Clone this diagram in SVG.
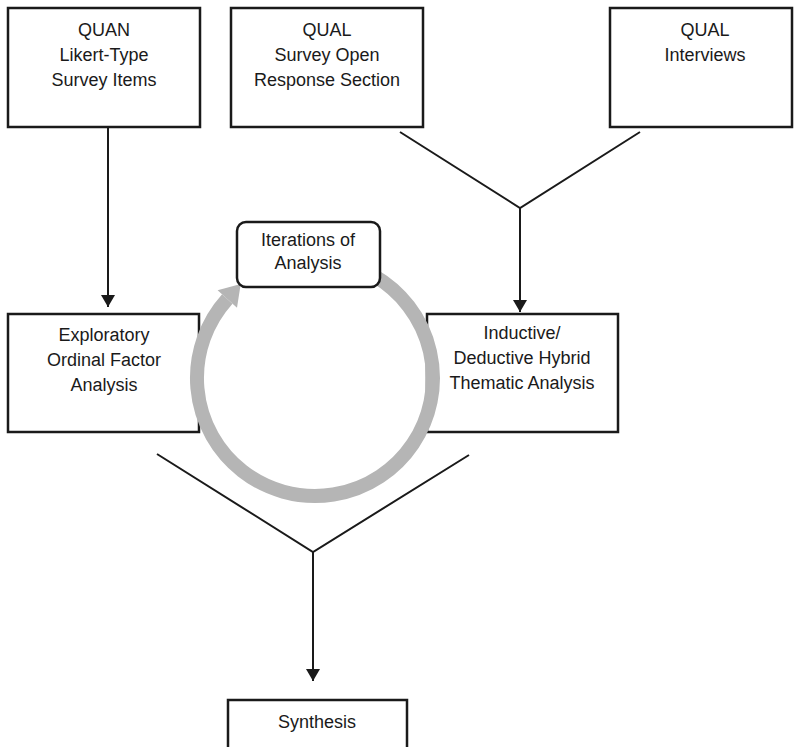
<svg xmlns="http://www.w3.org/2000/svg" width="794" height="747" viewBox="0 0 794 747">
<style>
.box{fill:#fff;stroke:#1a1a1a;stroke-width:2.5}
.t{font-family:"Liberation Sans",Arial,sans-serif;font-size:18px;fill:#1a1a1a;text-anchor:middle}
.ln{stroke:#1a1a1a;stroke-width:2;fill:none}
.ring{stroke:#b5b5b5;stroke-width:14;fill:none}
</style>
<defs>
<marker id="ah" viewBox="0 0 12 14" refX="12" refY="7" markerWidth="12" markerHeight="14" markerUnits="userSpaceOnUse" orient="auto">
<path d="M0,0 L12,7 L0,14 Z" fill="#1a1a1a"/>
</marker>
</defs>
<rect width="794" height="747" fill="#fff"/>
<g id="quan"><rect class="box" x="8" y="8" width="192" height="119"/>
<text class="t" x="104" y="36">QUAN</text><text class="t" x="104" y="61">Likert-Type</text><text class="t" x="104" y="86">Survey Items</text></g>
<g id="qualsurvey"><rect class="box" x="231" y="8" width="192" height="119"/>
<text class="t" x="327" y="36">QUAL</text><text class="t" x="327" y="61">Survey Open</text><text class="t" x="327" y="86">Response Section</text></g>
<g id="qualinterviews"><rect class="box" x="610" y="8" width="182" height="119"/>
<text class="t" x="705" y="36">QUAL</text><text class="t" x="705" y="61">Interviews</text></g>
<g id="efa"><rect class="box" x="8" y="314" width="191" height="118"/>
<text class="t" x="104" y="341">Exploratory</text><text class="t" x="104" y="366">Ordinal Factor</text><text class="t" x="104" y="391">Analysis</text></g>
<g id="thematic"><rect class="box" x="427" y="314" width="191" height="118"/>
<text class="t" x="522" y="339">Inductive/</text><text class="t" x="522" y="364">Deductive Hybrid</text><text class="t" x="522" y="389">Thematic Analysis</text></g>
<g id="cycle">
<path class="ring" d="M227.3,299 A118,118 0 1 0 374,275.8"/>
<path d="M240.7,284.1 L217.6,290.3 L237,307.7 Z" fill="#b5b5b5"/>
</g>
<g id="iterations"><rect class="box" x="237" y="222" width="143" height="65" rx="9"/>
<text class="t" x="308" y="246">Iterations of</text><text class="t" x="308" y="269">Analysis</text></g>
<g id="synthesis"><rect class="box" x="228" y="700" width="179" height="60"/>
<text class="t" x="317" y="728">Synthesis</text></g>
<g id="connectors">
<line class="ln" x1="108" y1="127" x2="108" y2="307" marker-end="url(#ah)"/>
<polyline class="ln" points="400,132 520,208 640,132"/>
<line class="ln" x1="520" y1="208" x2="520" y2="312" marker-end="url(#ah)"/>
<polyline class="ln" points="157,454 313,552 469,455"/>
<line class="ln" x1="313" y1="552" x2="313" y2="681" marker-end="url(#ah)"/>
</g>
</svg>
